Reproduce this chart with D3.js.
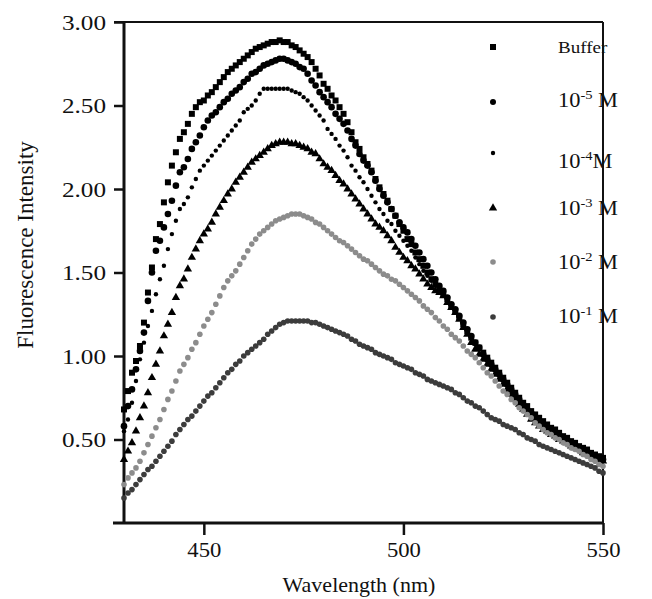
<!DOCTYPE html>
<html>
<head>
<meta charset="utf-8">
<script src="https://cdn.jsdelivr.net/npm/d3@7"></script>
<style>
  body { margin: 0; background: #fff; }
</style>
</head>
<body>
<div id="chart"></div>
<script>
// wavelength grid, 1 nm steps from 430 to 550
const wavelengths = d3.range(430, 551);

// Fluorescence intensity, 430..550 nm (10 values per row)
const bufferVals = [
  0.68,0.79,0.90,0.97,1.06,1.20,1.38,1.53,1.70,1.79,
  1.92,2.04,2.14,2.22,2.30,2.34,2.39,2.45,2.49,2.52,
  2.53,2.56,2.58,2.61,2.64,2.67,2.70,2.72,2.74,2.76,
  2.78,2.80,2.82,2.84,2.85,2.86,2.87,2.88,2.88,2.89,
  2.88,2.88,2.86,2.85,2.83,2.81,2.79,2.76,2.72,2.68,
  2.63,2.60,2.56,2.53,2.49,2.45,2.40,2.34,2.28,2.24,
  2.19,2.15,2.11,2.06,2.01,1.97,1.93,1.88,1.84,1.79,
  1.75,1.70,1.67,1.62,1.58,1.54,1.50,1.46,1.43,1.40,
  1.37,1.34,1.30,1.27,1.23,1.19,1.15,1.11,1.08,1.05,
  1.02,0.99,0.96,0.93,0.90,0.87,0.84,0.81,0.78,0.75,
  0.72,0.70,0.67,0.65,0.63,0.61,0.59,0.57,0.56,0.54,
  0.52,0.51,0.49,0.48,0.46,0.45,0.44,0.42,0.41,0.40,
  0.39
];
const m5Vals = [
  0.58,0.70,0.80,0.92,1.03,1.14,1.33,1.50,1.63,1.69,
  1.77,1.85,1.93,2.02,2.10,2.13,2.18,2.24,2.28,2.32,
  2.37,2.41,2.44,2.46,2.49,2.52,2.54,2.57,2.59,2.61,
  2.64,2.66,2.69,2.70,2.72,2.74,2.75,2.76,2.77,2.78,
  2.78,2.77,2.76,2.75,2.73,2.72,2.69,2.65,2.62,2.58,
  2.55,2.52,2.49,2.45,2.42,2.39,2.35,2.30,2.26,2.21,
  2.17,2.14,2.10,2.05,2.00,1.96,1.92,1.88,1.84,1.80,
  1.77,1.74,1.70,1.66,1.62,1.58,1.54,1.50,1.46,1.42,
  1.39,1.35,1.31,1.28,1.24,1.20,1.16,1.12,1.08,1.05,
  1.01,0.98,0.95,0.92,0.89,0.86,0.83,0.80,0.77,0.74,
  0.71,0.68,0.66,0.63,0.61,0.59,0.57,0.56,0.54,0.53,
  0.51,0.50,0.48,0.47,0.45,0.44,0.43,0.41,0.40,0.39,
  0.38
];
const m4Vals = [
  0.55,0.62,0.72,0.85,0.98,1.08,1.18,1.27,1.37,1.46,
  1.54,1.64,1.73,1.81,1.88,1.91,1.95,2.01,2.06,2.11,
  2.14,2.17,2.20,2.23,2.26,2.29,2.32,2.35,2.38,2.41,
  2.46,2.48,2.50,2.53,2.57,2.60,2.60,2.60,2.60,2.60,
  2.60,2.60,2.59,2.58,2.57,2.55,2.53,2.50,2.47,2.44,
  2.41,2.36,2.33,2.30,2.26,2.23,2.19,2.14,2.11,2.07,
  2.04,2.00,1.96,1.92,1.88,1.85,1.81,1.79,1.75,1.72,
  1.69,1.66,1.63,1.59,1.55,1.51,1.48,1.45,1.42,1.39,
  1.36,1.33,1.30,1.26,1.23,1.19,1.15,1.11,1.07,1.04,
  1.00,0.97,0.94,0.91,0.88,0.85,0.82,0.79,0.76,0.73,
  0.70,0.67,0.64,0.62,0.60,0.58,0.56,0.55,0.53,0.52,
  0.50,0.49,0.47,0.46,0.44,0.43,0.42,0.40,0.39,0.38,
  0.37
];
const m3Vals = [
  0.38,0.43,0.48,0.55,0.63,0.70,0.78,0.87,0.95,1.03,
  1.12,1.19,1.26,1.35,1.42,1.46,1.52,1.59,1.64,1.69,
  1.73,1.76,1.80,1.85,1.89,1.93,1.97,2.00,2.04,2.07,
  2.10,2.13,2.16,2.18,2.20,2.22,2.24,2.26,2.27,2.28,
  2.28,2.28,2.27,2.27,2.26,2.25,2.24,2.22,2.21,2.18,
  2.15,2.13,2.11,2.08,2.05,2.03,2.00,1.97,1.94,1.91,
  1.88,1.85,1.82,1.79,1.77,1.75,1.72,1.69,1.65,1.62,
  1.59,1.57,1.54,1.52,1.49,1.46,1.43,1.41,1.39,1.38,
  1.36,1.32,1.29,1.26,1.22,1.17,1.13,1.08,1.04,1.01,
  0.98,0.95,0.92,0.89,0.86,0.83,0.80,0.77,0.74,0.71,
  0.68,0.65,0.62,0.60,0.58,0.56,0.55,0.53,0.52,0.50,
  0.49,0.48,0.46,0.45,0.44,0.42,0.41,0.40,0.39,0.38,
  0.37
];
const m2Vals = [
  0.23,0.27,0.30,0.33,0.37,0.42,0.47,0.52,0.57,0.62,
  0.68,0.74,0.79,0.85,0.91,0.95,0.99,1.04,1.08,1.13,
  1.18,1.22,1.26,1.31,1.36,1.41,1.45,1.48,1.51,1.55,
  1.59,1.63,1.67,1.70,1.73,1.75,1.77,1.79,1.81,1.82,
  1.83,1.84,1.85,1.85,1.85,1.84,1.83,1.82,1.80,1.79,
  1.77,1.75,1.73,1.71,1.69,1.68,1.66,1.64,1.62,1.60,
  1.58,1.57,1.55,1.53,1.51,1.49,1.48,1.46,1.45,1.43,
  1.41,1.39,1.37,1.35,1.33,1.30,1.28,1.26,1.23,1.21,
  1.18,1.16,1.13,1.11,1.09,1.06,1.03,1.01,0.99,0.96,
  0.93,0.90,0.88,0.85,0.82,0.79,0.77,0.74,0.72,0.69,
  0.67,0.65,0.63,0.60,0.58,0.56,0.54,0.53,0.51,0.50,
  0.48,0.47,0.45,0.44,0.43,0.41,0.40,0.38,0.37,0.35,
  0.34
];
const m1Vals = [
  0.15,0.18,0.20,0.23,0.26,0.29,0.32,0.34,0.37,0.40,
  0.43,0.46,0.49,0.53,0.56,0.59,0.62,0.64,0.67,0.70,
  0.73,0.76,0.78,0.81,0.84,0.87,0.90,0.92,0.95,0.97,
  1.00,1.02,1.04,1.06,1.08,1.10,1.13,1.15,1.17,1.19,
  1.20,1.21,1.21,1.21,1.21,1.21,1.21,1.20,1.20,1.19,
  1.18,1.17,1.16,1.15,1.14,1.13,1.12,1.10,1.09,1.07,
  1.06,1.05,1.04,1.02,1.01,1.00,0.99,0.98,0.96,0.95,
  0.94,0.93,0.92,0.90,0.89,0.88,0.86,0.85,0.84,0.83,
  0.82,0.81,0.80,0.78,0.77,0.75,0.73,0.72,0.70,0.69,
  0.67,0.65,0.63,0.62,0.61,0.59,0.58,0.57,0.56,0.54,
  0.53,0.51,0.50,0.49,0.47,0.46,0.45,0.44,0.43,0.42,
  0.41,0.40,0.39,0.38,0.37,0.36,0.35,0.34,0.33,0.31,
  0.30
];

const seriesNames = ["Buffer", "10", "10", "10", "10", "10"];
const seriesExps = [null, "-5", "-4", "-3", "-2", "-1"];
const yTicks = [0.5, 1.0, 1.5, 2.0, 2.5, 3.0];
const xTicks = [450, 500, 550];

const series = [
  {vals: bufferVals, shape: "square",   fill: "#000"},
  {vals: m5Vals,     shape: "circle",   r: 3.3, fill: "#000"},
  {vals: m4Vals,     shape: "circle",   r: 2.2, fill: "#000"},
  {vals: m3Vals,     shape: "triangle", fill: "#000"},
  {vals: m2Vals,     shape: "circle",   r: 2.8, fill: "#8c8c8c"},
  {vals: m1Vals,     shape: "circle",   r: 2.8, fill: "#3c3c3c"}
];

const FONT = "'Liberation Serif', 'Times New Roman', Times, serif";
const W = 652, H = 599;
const margin = {top: 22, right: 49, bottom: 76, left: 124},
    width = W - margin.left - margin.right,
    height = H - margin.top - margin.bottom;

const root = d3.select("#chart").append("svg")
    .attr("width", W)
    .attr("height", H)
    .attr("font-family", FONT)
    .style("font-family", FONT);
const svg = root.append("g")
    .attr("transform", `translate(${margin.left},${margin.top})`);

const x = d3.scaleLinear().domain([430, 550]).range([0, width]);
const y = d3.scaleLinear().domain([0, 3]).range([height, 0]);

// Y axis ticks + labels
const yAxis = svg.append("g")
    .call(d3.axisLeft(y).tickValues(yTicks).tickSize(10).tickSizeOuter(0)
        .tickFormat(d3.format(".2f")));
yAxis.attr("font-family", FONT);
yAxis.select(".domain").remove();
yAxis.selectAll(".tick line").attr("stroke", "#111").attr("stroke-width", 2.5);
yAxis.selectAll(".tick text")
    .attr("font-size", 21)
    .attr("fill", "#111")
    .attr("x", null).attr("dy", null)
    .attr("transform", "translate(-18,7) scale(1.2,1)")
    .style("font-family", FONT);

// X axis ticks + labels
const xAxis = svg.append("g")
    .attr("transform", `translate(0,${height})`)
    .call(d3.axisBottom(x).tickValues(xTicks).tickSize(12).tickSizeOuter(0));
xAxis.attr("font-family", FONT);
xAxis.select(".domain").remove();
xAxis.selectAll(".tick line").attr("stroke", "#111").attr("stroke-width", 2.5);
xAxis.selectAll(".tick text")
    .attr("font-size", 21)
    .attr("fill", "#111")
    .attr("y", null).attr("dy", null)
    .attr("transform", "translate(0,34) scale(1.08,1)")
    .style("font-family", FONT);

// frame
svg.append("line").attr("x1", -11).attr("x2", width).attr("y1", height).attr("y2", height)
    .attr("stroke", "#111").attr("stroke-width", 3);
svg.append("line").attr("x1", 0).attr("x2", 0).attr("y1", 0).attr("y2", height)
    .attr("stroke", "#111").attr("stroke-width", 3);
svg.append("line").attr("x1", -10).attr("x2", width).attr("y1", 0).attr("y2", 0)
    .attr("stroke", "#111").attr("stroke-width", 2);
svg.append("line").attr("x1", width).attr("x2", width).attr("y1", 0).attr("y2", height)
    .attr("stroke", "#111").attr("stroke-width", 2);

// markers
function drawMarker(g, s, cx, cy) {
    if (s.shape === "circle") {
        g.append("circle").attr("cx", cx).attr("cy", cy).attr("r", s.r).attr("fill", s.fill);
    } else {
        const type = s.shape === "square" ? d3.symbolSquare : d3.symbolTriangle;
        const size = s.shape === "square" ? 36 : 30;
        g.append("path").attr("d", d3.symbol().type(type).size(size)())
            .attr("transform", `translate(${cx},${cy})`).attr("fill", s.fill);
    }
}

series.forEach(s => {
    const g = svg.append("g");
    s.vals.forEach((v, i) => drawMarker(g, s, x(wavelengths[i]), y(v)));
});

// legend
const legendY = [47, 102, 153, 208, 262, 317];
const legendTextY = [53, 107, 168, 215, 269, 323];
series.forEach((s, i) => {
    drawMarker(root, {...s, r: s.r ? Math.min(s.r, 3) : s.r}, 493, legendY[i]);
    const t = root.append("text")
        .attr("transform", `translate(558,${legendTextY[i]}) scale(1.12,1)`)
        .attr("font-size", i === 0 ? 17 : 20)
        .attr("fill", "#111")
        .style("font-family", FONT);
    t.append("tspan").text(seriesNames[i]);
    if (seriesExps[i]) {
        t.append("tspan").attr("font-size", 13).attr("dy", -8).text(seriesExps[i]);
        t.append("tspan").attr("dy", 8).text(i === 2 ? "M" : " M");
    }
});

// axis titles
root.append("text")
    .attr("x", 359).attr("y", 592)
    .attr("text-anchor", "middle")
    .attr("font-size", 22)
    .attr("fill", "#111")
    .style("font-family", FONT)
    .text("Wavelength (nm)");

root.append("text")
    .attr("transform", "translate(33,245) rotate(-90)")
    .attr("text-anchor", "middle")
    .attr("font-size", 23)
    .attr("fill", "#111")
    .style("font-family", FONT)
    .text("Fluorescence Intensity");
</script>
</body>
</html>
